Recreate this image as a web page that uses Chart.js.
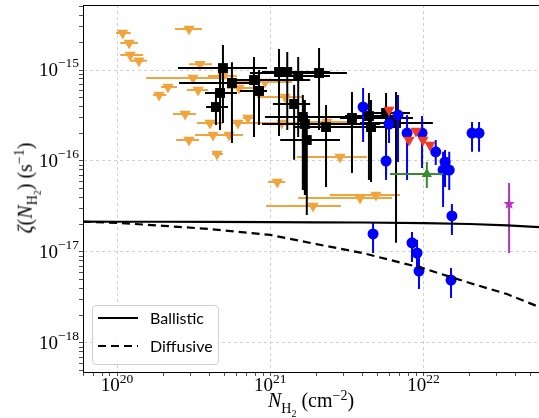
<!DOCTYPE html>
<html>
<head>
<meta charset="utf-8">
<script src="https://cdn.jsdelivr.net/npm/chart.js@4.4.1/dist/chart.umd.min.js"></script>
<style>
  body { margin: 0; background: #fff; }
  #wrap { position: relative; width: 539px; height: 418px; }
  .axlab { position: absolute; font-family: 'Liberation Serif', serif; font-size: 20px; white-space: nowrap; color: #000; }
  .axlab sub, .axlab sup { font-size: 14px; }
  #ylab { left: 27px; top: 188px; transform: translate(-50%, -50%) rotate(-90deg); }
  #xlab { left: 311px; top: 403px; transform: translate(-50%, -50%); }
  #legend { position: absolute; left: 92px; top: 305px; width: 125px; height: 58px; border: 1px solid #d0d0d0; border-radius: 4px; background: rgba(255,255,255,0.85); font-family: Lato, sans-serif; font-size: 16px; }
  #legend svg { position: absolute; left: 5px; }
  #legend span { position: absolute; left: 57px; }
</style>
</head>
<body>
<div id="wrap">
  <canvas id="chart" width="539" height="418"></canvas>
  <div class="axlab" id="ylab"><i>ζ</i>(<i>N</i><sub>H<sub style="font-size:10px">2</sub></sub>) (s<sup>−1</sup>)</div>
  <div class="axlab" id="xlab"><i>N</i><sub>H<sub style="font-size:10px">2</sub></sub> (cm<sup>−2</sup>)</div>
  <div id="legend">
    <svg style="top:7px" width="42" height="10"><line x1="0" y1="5" x2="40" y2="5" stroke="#000" stroke-width="2"/></svg>
    <span style="top:2px">Ballistic</span>
    <svg style="top:35px" width="42" height="10"><line x1="0" y1="5" x2="40" y2="5" stroke="#000" stroke-width="2" stroke-dasharray="8,5"/></svg>
    <span style="top:30px">Diffusive</span>
  </div>
</div>
<script>
// model curves
const modelNH2 = [6e19, 1e20, 2e20, 4e20, 1e21, 2e21, 4e21, 1e22, 2e22, 3.5e22, 5.66e22]
const ballisticZeta = [2.16e-17, 2.15e-17, 2.15e-17, 2.14e-17, 2.13e-17, 2.12e-17, 2.11e-17, 2.08e-17, 2.03e-17, 1.96e-17, 1.88e-17]
const diffusiveZeta = [2.15e-17, 2.09e-17, 1.94e-17, 1.79e-17, 1.54e-17, 1.22e-17, 9.75e-18, 6.6e-18, 4.56e-18, 3.45e-18, 2.49e-18]

// upper limits (orange)
const limNH2 = [1.09e20, 1.20e20, 1.22e20, 1.39e20, 2.95e20, 3.48e20, 3.13e20, 2.15e20, 1.88e20, 3.38e20, 4.91e20, 6.25e20, 9.23e20, 2.78e20, 4.04e20, 4.23e20, 5.38e20, 2.95e20, 4.49e20, 7.15e20, 6.15e20, 1.19e21, 2.34e21, 1.25e21, 2.85e21, 1.11e21, 1.90e21, 3.85e21, 4.89e21]
const limNH2Lo = [0.985e20, 1.05e20, 1.05e20, 1.22e20, 2.39e20, 2.95e20, 1.55e20, 1.94e20, 1.72e20, 2.86e20, 3.92e20, 5.22e20, 5.30e20, 2.32e20, 3.32e20, 3.23e20, 4.91e20, 2.43e20, 4.17e20, 6.64e20, 5.71e20, 8.19e20, 1.56e21, 8.19e20, 1.49e21, 9.66e20, 9.38e20, 1.52e21, 2.45e21]
const limNH2Hi = [1.23e20, 1.37e20, 1.48e20, 1.57e20, 3.58e20, 4.17e20, 5.22e20, 2.46e20, 2.09e20, 3.92e20, 6.06e20, 7.71e20, 1.39e21, 3.27e20, 4.91e20, 5.22e20, 6.64e20, 3.43e20, 4.91e20, 7.83e20, 8.19e20, 2.45e21, 3.46e21, 1.63e21, 4.27e21, 1.25e21, 2.89e21, 6.22e21, 7.02e21]
const limZeta = [2.55e-15, 1.98e-15, 1.46e-15, 1.26e-15, 2.82e-15, 1.16e-15, 8.17e-16, 6.50e-16, 5.31e-16, 6.03e-16, 8.59e-16, 6.34e-16, 7.38e-16, 3.28e-16, 2.62e-16, 1.93e-16, 1.93e-16, 1.70e-16, 1.19e-16, 2.97e-16, 2.62e-16, 2.62e-16, 2.68e-16, 5.05e-16, 1.11e-16, 5.88e-17, 3.20e-17, 3.92e-17, 4.23e-17]

// black squares
const sqNH2 = [4.91e20, 5.62e20, 4.70e20, 4.42e20, 7.83e20, 8.44e20, 1.14e21, 1.29e21, 1.52e21, 2.08e21, 1.43e21, 1.63e21, 1.68e21, 1.73e21, 2.31e21, 3.41e21, 4.40e21, 4.54e21, 5.69e21, 6.61e21]
const sqNH2Lo = [2.50e20, 2.54e20, 3.75e20, 3.81e20, 5.22e20, 6.34e20, 8.83e20, 9.66e20, 1.07e21, 7.37e20, 1.04e21, 9.23e20, 8.83e20, 1.16e21, 1.45e21, 2.85e21, 3.07e21, 3.07e21, 4.34e21, 3.85e21]
const sqNH2Hi = [9.52e20, 7.71e20, 6.06e20, 5.30e20, 1.82e21, 9.52e20, 2.11e21, 2.45e21, 2.45e21, 3.16e21, 1.82e21, 3.07e21, 5.20e21, 2.85e21, 3.46e21, 8.53e21, 7.02e21, 7.02e21, 8.15e21, 1.15e22]
const sqZeta = [1.05e-15, 7.20e-16, 5.59e-16, 3.92e-16, 7.76e-16, 5.88e-16, 9.51e-16, 9.51e-16, 8.59e-16, 9.27e-16, 4.23e-16, 3.05e-16, 2.55e-16, 1.70e-16, 2.36e-16, 2.97e-16, 3.12e-16, 2.36e-16, 3.37e-16, 2.62e-16]
const sqZetaLo = [2.62e-16, 1.58e-16, 2.19e-16, 2.49e-16, 1.84e-16, 2.49e-16, 1.88e-16, 2.19e-16, 1.84e-16, 2.19e-16, 1.03e-16, 4.80e-17, 4.23e-17, 2.55e-17, 5.18e-17, 7.38e-17, 6.18e-17, 5.88e-17, 7.03e-17, 1.26e-17]
const sqZetaHi = [1.88e-15, 1.22e-15, 1.00e-15, 6.03e-16, 1.39e-15, 1.00e-15, 1.70e-15, 1.58e-15, 1.39e-15, 1.75e-15, 6.84e-16, 5.31e-16, 4.68e-16, 3.20e-16, 4.12e-16, 5.73e-16, 5.59e-16, 4.68e-16, 5.59e-16, 5.73e-16]

// blue circles
const circNH2 = [4.03e21, 5.95e21, 6.81e21, 7.80e21, 9.77e21, 1.20e22, 1.38e22, 1.34e22, 1.47e22, 2.07e22, 2.30e22, 5.69e21, 1.53e22, 4.68e21, 8.40e21, 9.06e21, 9.33e21, 1.51e22]
const circZeta = [3.92e-16, 2.55e-16, 3.20e-16, 2.03e-16, 2.03e-16, 1.26e-16, 9.75e-17, 7.96e-17, 7.96e-17, 2.03e-16, 2.03e-16, 1.00e-16, 2.49e-17, 1.58e-17, 1.26e-17, 9.75e-18, 6.18e-18, 4.92e-18]
const circZetaLo = [1.62e-16, 1.58e-16, 9.75e-17, 6.18e-17, 8.38e-17, 9.04e-17, 5.18e-17, 3.12e-17, 4.80e-17, 1.26e-16, 1.26e-16, 6.18e-17, 1.54e-17, 9.75e-18, 7.76e-18, 6.34e-18, 3.92e-18, 3.12e-18]
const circZetaHi = [6.34e-16, 3.46e-16, 5.31e-16, 3.20e-16, 3.12e-16, 1.70e-16, 1.32e-16, 1.26e-16, 1.26e-16, 2.68e-16, 2.68e-16, 1.58e-16, 3.37e-17, 2.08e-17, 1.66e-17, 1.36e-17, 8.81e-18, 6.67e-18]

// red limits
const redNH2 = [5.95e21, 8.03e21, 8.92e21, 9.91e21, 1.10e22]
const redZeta = [3.63e-16, 1.70e-16, 2.14e-16, 1.70e-16, 1.50e-16]

// green lower limit
const greenNH2 = [1.05e22], greenNH2Lo = [6.04e21], greenNH2Hi = [1.34e22]
const greenZeta = [7.20e-17], greenZetaLo = [5.05e-17], greenZetaHi = [9.75e-17]

// magenta star
const starNH2 = [3.61e22]
const starZeta = [3.37e-17], starZetaLo = [9.75e-18], starZetaHi = [5.73e-17]

const xTickExps = [19, 20, 21, 22]
const yTickExps = [-19, -18, -17, -16, -15]

const ORANGE = '#f1a43c'
const BLUE = '#0000ff'
const RED = '#ee3a26'
const GREEN = '#3b8b2e'
const MAGENTA = '#b634bf'

function points (xs, ys, extra) {
  return xs.map(function (x, i) {
    const p = { x: x, y: ys[i] }
    if (extra) {
      for (const k in extra) p[k] = extra[k][i]
    }
    return p
  })
}

function makeStar (r, color) {
  const c = document.createElement('canvas')
  c.width = c.height = 2 * r + 2
  const g = c.getContext('2d')
  g.fillStyle = color
  g.beginPath()
  for (let i = 0; i < 10; i++) {
    const a = -Math.PI / 2 + i * Math.PI / 5
    const rr = i % 2 ? r * 0.42 : r
    g.lineTo(r + 1 + rr * Math.cos(a), r + 1 + rr * Math.sin(a))
  }
  g.closePath()
  g.fill()
  return c
}

function logTicks (scale, exps) {
  const ticks = []
  exps.forEach(function (e) {
    for (let m = 1; m <= 9; m++) {
      const v = m * Math.pow(10, e)
      if (v >= scale.min && v <= scale.max) ticks.push({ value: v, major: m === 1 })
    }
  })
  scale.ticks = ticks
}

// no extra room around the plot: the frame runs to the canvas edge
function noPadding (s) {
  s.paddingTop = 0
  s.paddingBottom = 0
  s.paddingLeft = 0
  s.paddingRight = 0
}

const errorBars = {
  id: 'errorBars',
  beforeDatasetDraw (chart, args) {
    const ds = chart.data.datasets[args.index]
    if (!ds.errorColor) return
    const ctx = chart.ctx
    const xs = chart.scales.x
    const ys = chart.scales.y
    const area = chart.chartArea
    ctx.save()
    ctx.beginPath()
    ctx.rect(area.left, area.top, area.right - area.left, area.bottom - area.top)
    ctx.clip()
    ctx.strokeStyle = ds.errorColor
    ctx.lineWidth = ds.errorWidth || 2
    ctx.beginPath()
    ds.data.forEach(function (p) {
      const px = xs.getPixelForValue(p.x)
      const py = ys.getPixelForValue(p.y)
      if (p.xMin) {
        ctx.moveTo(xs.getPixelForValue(p.xMin), py)
        ctx.lineTo(xs.getPixelForValue(p.xMax), py)
      }
      if (p.yMin) {
        ctx.moveTo(px, ys.getPixelForValue(p.yMin))
        ctx.lineTo(px, ys.getPixelForValue(p.yMax))
      }
    })
    ctx.stroke()
    ctx.restore()
  }
}

// frame + power-of-ten tick labels with a raised exponent
const frame = {
  id: 'frame',
  afterDraw (chart) {
    const ctx = chart.ctx
    const a = chart.chartArea
    ctx.save()
    ctx.strokeStyle = '#000'
    ctx.lineWidth = 1
    ctx.strokeRect(a.left + 0.5, a.top + 0.5, a.right - a.left, a.bottom - a.top)

    ctx.fillStyle = '#000'
    const big = '19px "Liberation Serif", serif'
    const small = '13.5px "Liberation Serif", serif'
    function expText (e) { return String(e).replace('-', '\u2212') }

    chart.scales.y.ticks.forEach(function (t) {
      if (!t.major) return
      const py = chart.scales.y.getPixelForValue(t.value)
      const e = expText(Math.round(Math.log10(t.value)))
      ctx.font = small
      const ew = ctx.measureText(e).width
      ctx.textAlign = 'left'
      ctx.textBaseline = 'alphabetic'
      ctx.fillText(e, a.left - 4 - ew, py - 3)
      ctx.font = big
      ctx.textAlign = 'right'
      ctx.fillText('10', a.left - 4 - ew, py + 6)
    })

    chart.scales.x.ticks.forEach(function (t) {
      if (!t.major) return
      const px = chart.scales.x.getPixelForValue(t.value)
      const e = expText(Math.round(Math.log10(t.value)))
      ctx.font = small
      const ew = ctx.measureText(e).width
      ctx.font = big
      const bw = ctx.measureText('10').width
      const x0 = px - (bw + ew) / 2
      ctx.textAlign = 'left'
      ctx.textBaseline = 'alphabetic'
      ctx.fillText('10', x0, a.bottom + 19)
      ctx.font = small
      ctx.fillText(e, x0 + bw, a.bottom + 11)
    })
    ctx.restore()
  }
}

const datasets = [
  {
    label: 'Ballistic',
    data: points(modelNH2, ballisticZeta),
    showLine: true, pointRadius: 0, borderColor: '#000', borderWidth: 2.2, fill: false
  },
  {
    label: 'Diffusive',
    data: points(modelNH2, diffusiveZeta),
    showLine: true, pointRadius: 0, borderColor: '#000', borderWidth: 2.2, borderDash: [8, 5], fill: false
  },
  {
    data: points(starNH2, starZeta, { yMin: starZetaLo, yMax: starZetaHi }),
    pointStyle: makeStar(6, MAGENTA), errorColor: MAGENTA, errorWidth: 2
  },
  {
    data: points(greenNH2, greenZeta, { xMin: greenNH2Lo, xMax: greenNH2Hi, yMin: greenZetaLo, yMax: greenZetaHi }),
    pointStyle: 'triangle', pointRadius: 6, backgroundColor: GREEN, borderColor: GREEN, borderWidth: 0,
    errorColor: GREEN, errorWidth: 2
  },
  {
    data: points(redNH2, redZeta),
    pointStyle: 'triangle', pointRotation: 180, pointRadius: 6.5, backgroundColor: RED, borderColor: RED, borderWidth: 0
  },
  {
    data: points(circNH2, circZeta, { yMin: circZetaLo, yMax: circZetaHi }),
    pointStyle: 'circle', pointRadius: 5.5, backgroundColor: BLUE, borderColor: BLUE, borderWidth: 0,
    errorColor: BLUE, errorWidth: 2
  },
  {
    data: points(sqNH2, sqZeta, { xMin: sqNH2Lo, xMax: sqNH2Hi, yMin: sqZetaLo, yMax: sqZetaHi }),
    pointStyle: 'rect', pointRadius: 7, backgroundColor: '#000', borderColor: '#000', borderWidth: 0,
    errorColor: '#000', errorWidth: 2
  },
  {
    data: points(limNH2, limZeta, { xMin: limNH2Lo, xMax: limNH2Hi }),
    pointStyle: 'triangle', pointRotation: 180, pointRadius: 6.5, backgroundColor: ORANGE, borderColor: ORANGE, borderWidth: 0,
    errorColor: ORANGE, errorWidth: 2
  }
]

const gridColor = function (c) { return c.tick && c.tick.major ? '#c6c6c6' : 'rgba(0,0,0,0)' }

const config = {
  type: 'scatter',
  data: { datasets: datasets },
  options: {
    responsive: false,
    animation: false,
    layout: { autoPadding: false, padding: { top: 5, right: 0, left: 0, bottom: 0 } },
    plugins: {
      legend: { display: false },
      tooltip: { enabled: false },
    },
    scales: {
      x: {
        type: 'logarithmic',
        min: 6.0e19,
        max: 5.66e22,
        afterBuildTicks: function (s) { logTicks(s, xTickExps) },
        afterFit: function (s) { s.height = 46; noPadding(s) },
        grid: { color: gridColor, lineWidth: 0.8, tickColor: '#222', tickLength: 4 },
        border: { display: true, color: '#000', dash: [3, 3] },
        ticks: { display: false },
      },
      y: {
        type: 'logarithmic',
        min: 4.8e-19,
        max: 5.18e-15,
        afterBuildTicks: function (s) { logTicks(s, yTickExps) },
        afterFit: function (s) { s.width = 83; noPadding(s) },
        grid: { color: gridColor, lineWidth: 0.8, tickColor: '#222', tickLength: 4 },
        border: { display: true, color: '#000', dash: [3, 3] },
        ticks: { display: false },
      },
    },
  },
  plugins: [errorBars, frame],
}

const ctx = document.getElementById('chart').getContext('2d')
const myChart = new Chart(ctx, config)
</script>
</body>
</html>
